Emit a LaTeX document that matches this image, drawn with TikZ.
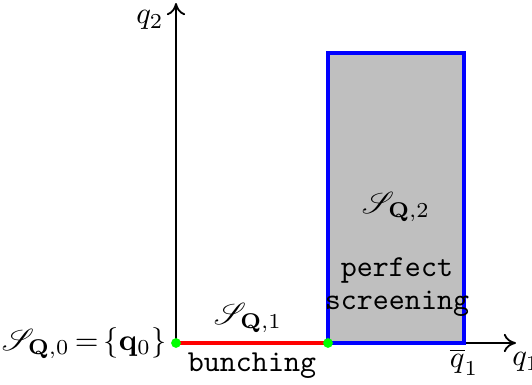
\documentclass[tikz,border=0pt]{standalone}
\usepackage{mathrsfs}
\usetikzlibrary{arrows.meta}
\begin{document}
\begin{tikzpicture}[x=0.328pt,y=-0.328pt,
  axis/.style={line width=0.6pt,-{To[length=4pt,width=6pt]}},
  dot/.style={circle,fill=green,inner sep=0pt,minimum size=3.2pt},
  lbl/.style={inner sep=1pt}]
\useasboundingbox (0,0) rectangle (532,385);
\coordinate (O) at (176,343);
\coordinate (X) at (516,343);
\coordinate (Y) at (176,3);
\coordinate (A) at (328,343);
\coordinate (B) at (464,53);
\coordinate (C) at (464,343);
\draw[axis] (O) -- (X);
\draw[axis] (O) -- (Y);
\draw[blue,fill=lightgray,line width=1.2pt] (A) rectangle (B);
\draw[red,line width=1.1pt] (O) -- (A);
\node[dot] (d0) at (O) {};
\node[dot] (d1) at (A) {};
\node[lbl,anchor=east] (s0) at (170,343) {$\mathscr{S}_{\mathbf{Q},0}\mkern-2mu=\mkern-2mu\{\mathbf{q}_0\}$};
\node[lbl] (s1) at (248,318) {$\mathscr{S}_{\mathbf{Q},1}$};
\node[lbl] (bun) at (252,366) {\texttt{bunching}};
\node[lbl] (s2) at (396,207) {$\mathscr{S}_{\mathbf{Q},2}$};
\node[lbl,align=center] (ps) at (397,287) {\texttt{perfect}\\[-1pt]\texttt{screening}};
\node[lbl] (qb) at (464,362) {$\overline{q}_1$};
\node[lbl] (q1) at (526,362) {$q_1$};
\node[lbl] (q2) at (150,20) {$q_2$};
\end{tikzpicture}
\end{document}
